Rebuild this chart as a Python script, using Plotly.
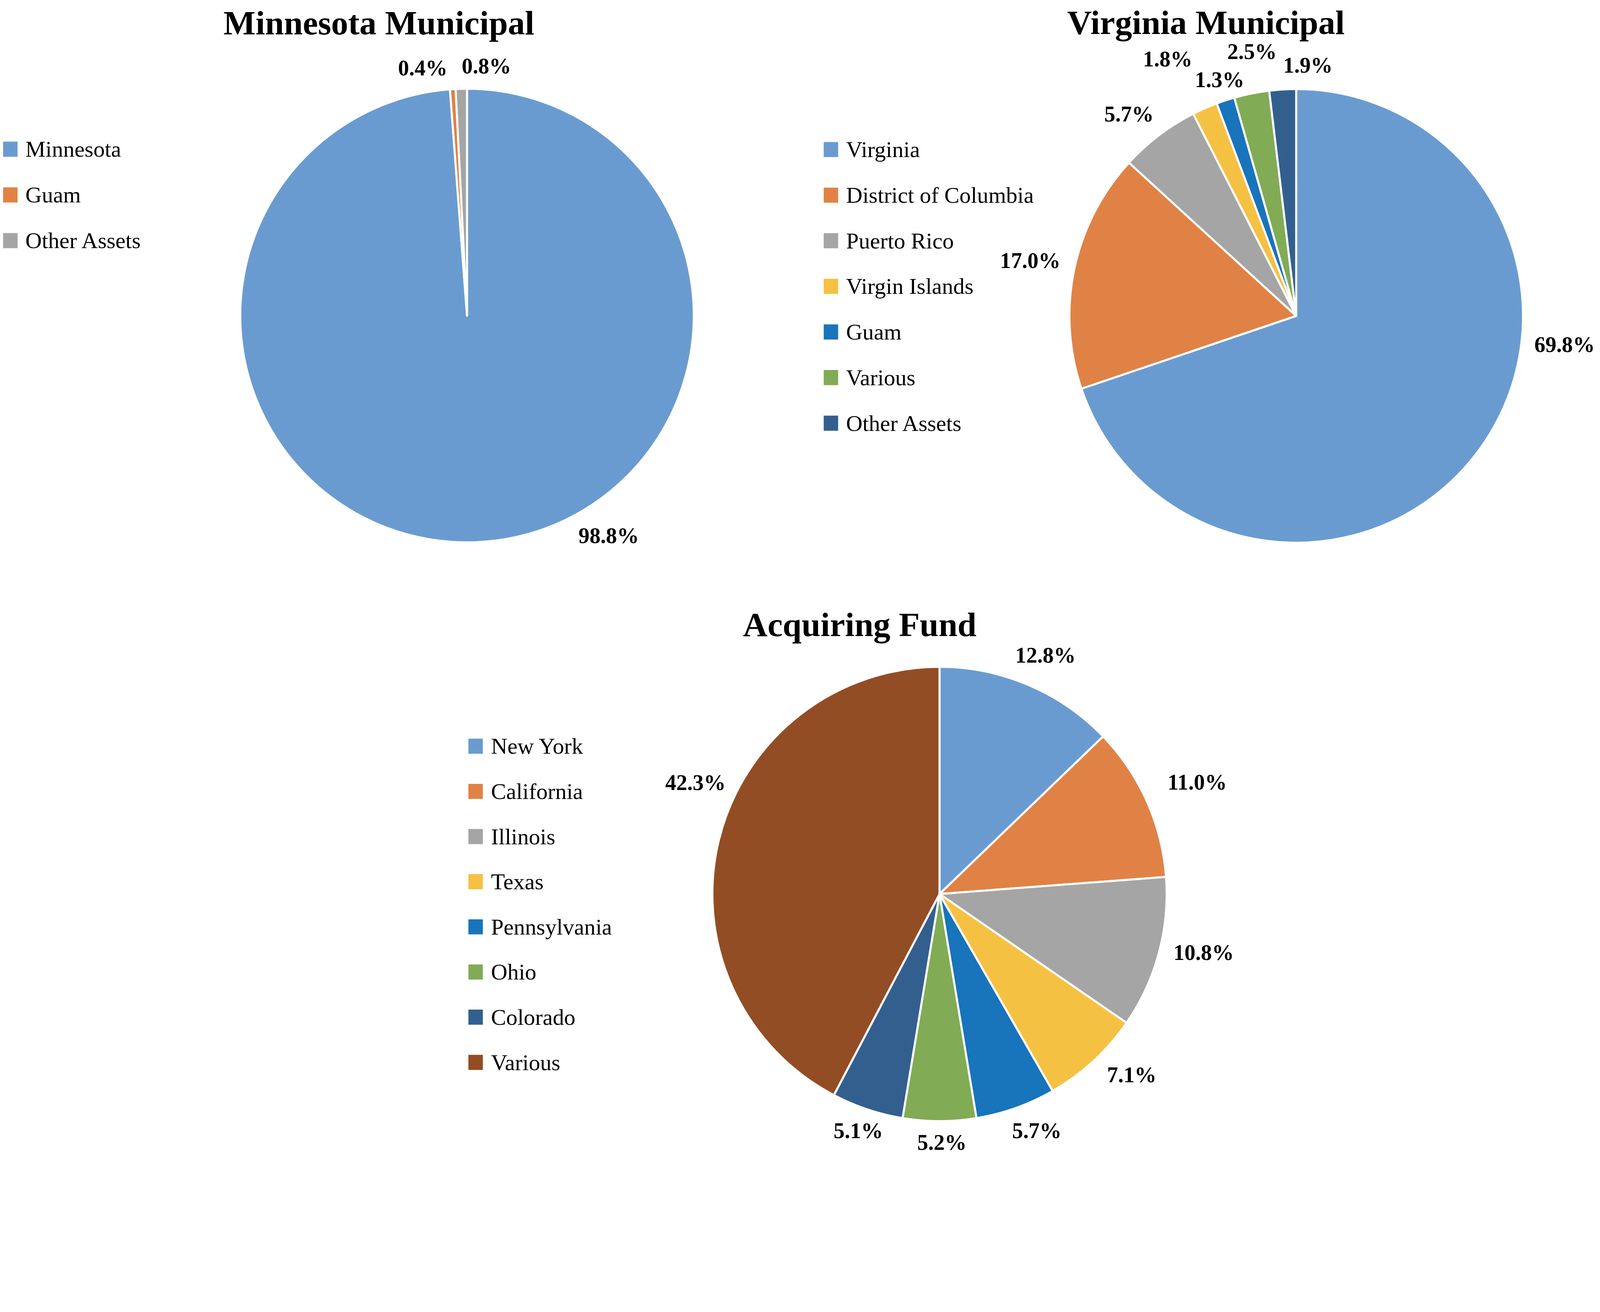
import math
import plotly.graph_objects as go

# layout is measured on a 4638 x 3358 canvas; the browser viewport is only
# 4096 px wide, so the whole figure is drawn at a uniform scale to fit it
W, H = 4638, 3358
SCALE = 4080 / W
FONT = "Liberation Serif"

# slice colours, shared by the three pies in the same order
palette = ["#6A9BD0", "#E08245", "#A5A5A5", "#F5C142",
           "#1874BB", "#82AB55", "#335F8F", "#934D24"]

mn_labels = ["Minnesota", "Guam", "Other Assets"]
mn_values = [98.8, 0.4, 0.8]

va_labels = ["Virginia", "District of Columbia", "Puerto Rico", "Virgin Islands",
             "Guam", "Various", "Other Assets"]
va_values = [69.8, 17.0, 5.7, 1.8, 1.3, 2.5, 1.9]

af_labels = ["New York", "California", "Illinois", "Texas", "Pennsylvania",
             "Ohio", "Colorado", "Various"]
af_values = [12.8, 11.0, 10.8, 7.1, 5.7, 5.2, 5.1, 42.3]

# where each percentage label sits: angle nudge (deg) from the slice middle,
# and distance from the centre as a multiple of the radius
mn_label_shift = [-30.6, -6.5, 5.9]
mn_label_dist = [1.154, 1.108, 1.103]
va_label_shift = [-29.5, -0.1, -2.4, -2.8, 0.2, 1.9, 6.1]
va_label_dist = [1.191, 1.197, 1.155, 1.266, 1.094, 1.181, 1.106]
af_label_shift = [0.9, 0.7, -2.6, -4.1, -2.7, -0.6, 0.4, 10.7]
af_label_dist = [1.150, 1.236, 1.192, 1.163, 1.127, 1.094, 1.102, 1.181]

# pixel layout of each panel: pie centre/radius, title centre, legend origin and step
panels = [
    dict(title="Minnesota Municipal", labels=mn_labels, values=mn_values,
         shift=mn_label_shift, dist=mn_label_dist,
         cx=1350, cy=909, r=660, tx=1093, ty=57, lx=0, ly=425, step=133),
    dict(title="Virginia Municipal", labels=va_labels, values=va_values,
         shift=va_label_shift, dist=va_label_dist,
         cx=3763, cy=910, r=660, tx=3500, ty=56, lx=2388, ly=426, step=132.7),
    dict(title="Acquiring Fund", labels=af_labels, values=af_values,
         shift=af_label_shift, dist=af_label_dist,
         cx=2725, cy=2592, r=661, tx=2493, ty=1808, lx=1354, ly=2162, step=131.4),
]


def px(x, y):
    return x / W, 1 - y / H


fig = go.Figure()
shapes = []
annotations = []

for p in panels:
    colors = palette[:len(p["labels"])]
    fig.add_trace(go.Pie(
        labels=p["labels"],
        values=p["values"],
        sort=False,
        direction="clockwise",
        rotation=0,
        marker=dict(colors=colors, line=dict(color="white", width=6 * SCALE)),
        textinfo="none",
        showlegend=False,
        hoverinfo="label+percent",
        domain=dict(
            x=[(p["cx"] - p["r"]) / W, (p["cx"] + p["r"]) / W],
            y=[1 - (p["cy"] + p["r"]) / H, 1 - (p["cy"] - p["r"]) / H],
        ),
    ))

    tx, ty = px(p["tx"], p["ty"])
    annotations.append(dict(
        text="<b>%s</b>" % p["title"], x=tx, y=ty,
        xref="paper", yref="paper", xanchor="center", yanchor="middle",
        showarrow=False, font=dict(family=FONT, size=99 * SCALE, color="black"),
    ))

    # percentage labels outside the slices
    total = sum(p["values"])
    cum = 0
    for v, s, d in zip(p["values"], p["shift"], p["dist"]):
        ang = math.radians((cum + v / 2) / total * 360 + s)
        cum += v
        lx, ly = px(p["cx"] + d * p["r"] * math.sin(ang),
                    p["cy"] - d * p["r"] * math.cos(ang))
        annotations.append(dict(
            text="<b>%.1f%%</b>" % (100 * v / total), x=lx, y=ly,
            xref="paper", yref="paper", xanchor="center", yanchor="middle",
            showarrow=False, font=dict(family=FONT, size=64 * SCALE, color="black"),
        ))

    # legend drawn as squares + labels so the spacing matches the original
    for i, (lab, col) in enumerate(zip(p["labels"], colors)):
        yc = p["ly"] + i * p["step"]
        x0, y0 = px(p["lx"], yc + 22)
        x1, y1 = px(p["lx"] + 42, yc - 22)
        shapes.append(dict(
            type="rect", xref="paper", yref="paper",
            x0=x0, x1=x1, y0=y0, y1=y1,
            fillcolor=col, line=dict(width=0),
        ))
        ax, ay = px(p["lx"] + 63, yc)
        annotations.append(dict(
            text=lab, x=ax, y=ay,
            xref="paper", yref="paper", xanchor="left", yanchor="middle",
            showarrow=False, font=dict(family=FONT, size=66 * SCALE, color="black"),
        ))

fig.update_layout(
    width=round(W * SCALE), height=round(H * SCALE),
    margin=dict(l=0, r=0, t=0, b=0),
    paper_bgcolor="white",
    plot_bgcolor="white",
    font=dict(family=FONT),
    shapes=shapes,
    annotations=annotations,
)

fig.write_html("out.html")
